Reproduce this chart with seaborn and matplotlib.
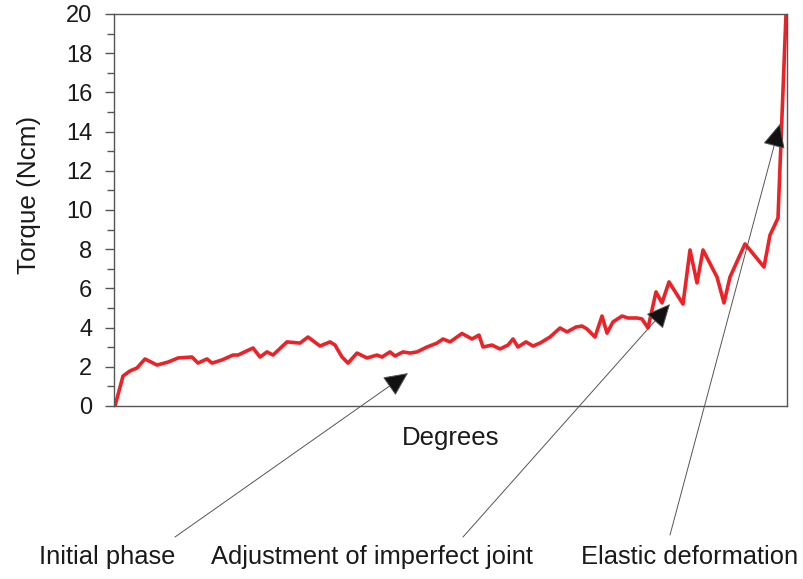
import matplotlib
matplotlib.use("Agg")
import matplotlib.pyplot as plt
from matplotlib.ticker import MultipleLocator
import seaborn as sns
import pandas as pd

# Data (degrees in arbitrary units, torque in Ncm)
degrees = [1, 9, 16, 23, 31, 43, 54, 64, 78, 84, 93, 98, 108, 119, 124, 139, 146, 153, 159,
           173, 186, 194, 206, 216, 221, 228, 234, 243, 253, 263, 268, 276, 281, 289, 296,
           303, 313, 323, 329, 336, 348, 358, 365, 369, 378, 386, 394, 399, 404, 412, 419,
           426, 436, 446, 453, 462, 468, 473, 481, 488, 493, 499, 508, 514, 523, 528, 534,
           542, 548, 555, 569, 576, 583, 589, 603, 610, 616, 631, 650, 656, 664, 672]
torque = [0.0, 1.53, 1.79, 1.94, 2.40, 2.09, 2.24, 2.45, 2.50, 2.19, 2.40, 2.19, 2.35, 2.60,
          2.60, 2.96, 2.50, 2.76, 2.60, 3.27, 3.21, 3.52, 3.06, 3.27, 3.11, 2.50, 2.19, 2.70,
          2.45, 2.60, 2.50, 2.76, 2.55, 2.76, 2.70, 2.76, 3.01, 3.21, 3.42, 3.27, 3.70, 3.42,
          3.62, 3.01, 3.11, 2.91, 3.11, 3.42, 3.01, 3.27, 3.06, 3.21, 3.52, 3.98, 3.78, 4.03,
          4.08, 3.93, 3.52, 4.59, 3.72, 4.29, 4.59, 4.49, 4.49, 4.44, 3.98, 5.82, 5.26, 6.33,
          5.20, 7.96, 6.28, 7.96, 6.58, 5.26, 6.58, 8.27, 7.09, 8.72, 9.59, 20.0]

y_ticks = [0, 2, 4, 6, 8, 10, 12, 14, 16, 18, 20]

annot_labels = ["Initial phase", "Adjustment of imperfect joint", "Elastic deformation"]
annot_tips_x = [294, 556, 666]
annot_tips_y = [1.68, 5.2, 14.4]

df = pd.DataFrame({"Degrees": degrees, "Torque": torque})

sns.set_style("white")
plt.rcParams["font.family"] = ["Liberation Sans", "DejaVu Sans"]

fig = plt.figure(figsize=(8.04, 5.79), dpi=100)
ax = fig.add_axes([114 / 804, 1 - 406 / 579, 673 / 804, 392 / 579])

sns.lineplot(data=df, x="Degrees", y="Torque", ax=ax, color="#ec2227",
             linewidth=2.6, estimator=None, sort=False)

ax.set_xlim(0, 673)
ax.set_ylim(0, 20)
ax.set_xticks([])
ax.set_yticks(y_ticks)
ax.set_yticklabels([str(t) for t in y_ticks])
ax.yaxis.set_minor_locator(MultipleLocator(1))
ax.tick_params(axis="y", which="major", direction="out", length=6.5, width=1.0,
               color="#555555", pad=9, labelsize=17, left=True, labelcolor="#1a1a1a")
ax.tick_params(axis="y", which="minor", direction="out", length=5, width=1.0,
               color="#555555", left=True)
for s in ax.spines.values():
    s.set_color("#555555")
    s.set_linewidth(1.0)
    s.set_visible(True)

ax.set_xlabel("Degrees", fontsize=18.5, color="#1a1a1a")
ax.xaxis.set_label_coords(0.5, -0.052)
ax.set_ylabel("Torque (Ncm)", fontsize=18.8, color="#1a1a1a")
ax.yaxis.set_label_coords(-0.108, 0.538)

starts = [(175 / 804, 1 - 537 / 579), (463 / 804, 1 - 537 / 579), (670 / 804, 1 - 535 / 579)]
text_x = [107 / 804, 372 / 804, 690 / 804]
for lab, tx, ty, st, cx in zip(annot_labels, annot_tips_x, annot_tips_y, starts, text_x):
    ax.annotate("", xy=(tx, ty), xycoords="data", xytext=st, textcoords="figure fraction",
                arrowprops=dict(arrowstyle="-|>,head_length=0.85,head_width=0.4",
                                mutation_scale=18, fc="#111111", ec="#555555", lw=0.7,
                                shrinkA=0, shrinkB=0),
                annotation_clip=False)
    fig.text(cx, 1 - 557 / 579, lab, ha="center", va="center", fontsize=18.4, color="#1a1a1a")

fig.savefig("out.png", dpi=100)
